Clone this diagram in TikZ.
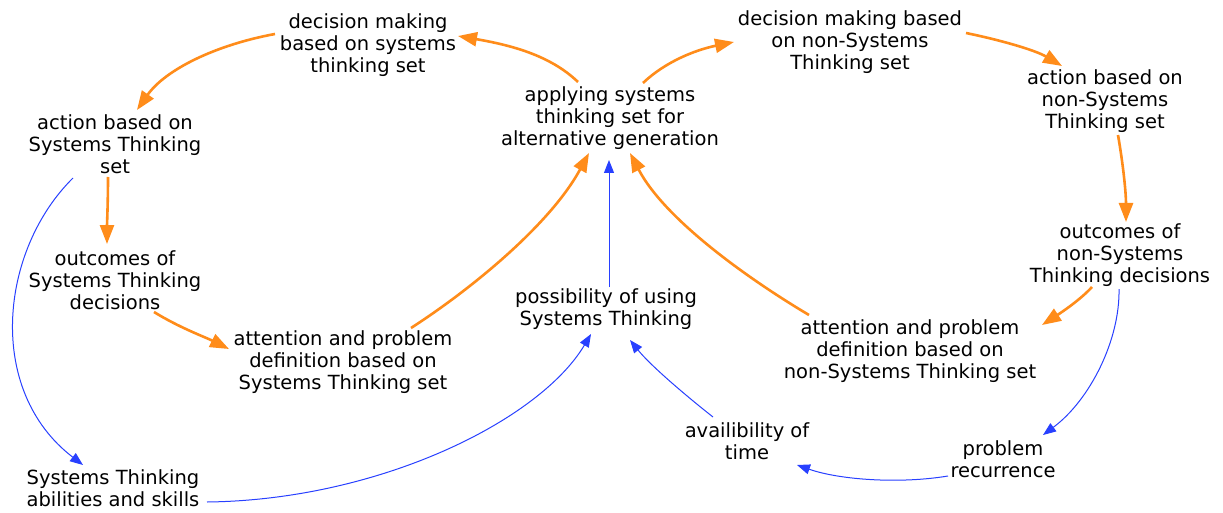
\documentclass[tikz,border=0pt]{standalone}
\usepackage{fontspec}
\setmainfont{DejaVu Sans}
\usetikzlibrary{arrows.meta}
\definecolor{cldorange}{RGB}{255,140,26}
\definecolor{cldblue}{RGB}{40,64,255}
\begin{document}
\begin{tikzpicture}[x=1pt,y=-1pt,
  var/.style={align=center,inner sep=0pt,font=\fontsize{19.5}{22}\selectfont},
  olink/.style={draw=cldorange,line width=2.6pt,-{Triangle[length=19pt,width=14pt]}},
  blink/.style={draw=cldblue,line width=1pt,-{Triangle[length=13pt,width=10pt]}}]
\useasboundingbox[fill=white] (0,0) rectangle (1223,513);
\node[var] (dmST) at (368,45) {decision making\\based on systems\\thinking set};
\node[var] (app) at (610,118) {applying systems\\thinking set for\\alternative generation};
\node[var] (dmN) at (850,42) {decision making based\\on non-Systems\\Thinking set};
\node[var] (actN) at (1105,101) {action based on\\non-Systems\\Thinking set};
\node[var] (actST) at (115,144) {action based on\\Systems Thinking\\set};
\node[var] (outST) at (115,280) {outcomes of\\Systems Thinking\\decisions};
\node[var] (outN) at (1120,255) {outcomes of\\non-Systems\\Thinking decisions};
\node[var] (poss) at (606,309) {possibility of using\\Systems Thinking};
\node[var] (attST) at (343,362) {attention and problem\\definition based on\\Systems Thinking set};
\node[var] (attN) at (910,351) {attention and problem\\definition based on\\non-Systems Thinking set};
\node[var] (avail) at (747,441) {availibility of\\time};
\node[var] (prob) at (1003,459) {problem\\recurrence};
\node[var] (abil) at (113,488) {Systems Thinking\\abilities and skills};
% orange links
\draw[olink] ([shift={(-32,-36)}]app.center) .. controls +(-28,-27) and +(52,9) .. ([shift={(90,-9)}]dmST.center);
\draw[olink] ([shift={(-93,-11)}]dmST.center) .. controls +(-60,11) and +(28,-40) .. ([shift={(22,-34)}]actST.center);
\draw[olink] ([shift={(-7,33)}]actST.center) .. controls +(0,25) and +(0,-20) .. ([shift={(-8,-36)}]outST.center);
\draw[olink] ([shift={(39,32)}]outST.center) .. controls +(26,16) and +(-24,-12) .. ([shift={(-114,-13)}]attST.center);
\draw[olink] ([shift={(68,-34)}]attST.center) .. controls +(59,-38) and +(-39,72) .. ([shift={(-21,35)}]app.center);
\draw[olink] ([shift={(33,-35)}]app.center) .. controls +(22,-21) and +(-39,8) .. ([shift={(-116,0)}]dmN.center);
\draw[olink] ([shift={(116,-9)}]dmN.center) .. controls +(34,7) and +(-27,-16) .. ([shift={(-43,-35)}]actN.center);
\draw[olink] ([shift={(13,34)}]actN.center) .. controls +(6,35) and +(0,-27) .. ([shift={(6,-33)}]outN.center);
\draw[olink] ([shift={(-28,32)}]outN.center) .. controls +(-12,13) and +(20,-13) .. ([shift={(132,-26)}]attN.center);
\draw[olink] ([shift={(-101,-36)}]attN.center) .. controls +(-59,-35) and +(35,67) .. ([shift={(20,35)}]app.center);
% blue links
\draw[blink] ([shift={(3,-22)}]poss.center) -- ([shift={(-1,42)}]app.center);
\draw[blink] ([shift={(-42,34)}]actST.center) .. controls +(-73,72) and +(-98,-75) .. ([shift={(-30,-23)}]abil.center);
\draw[blink] ([shift={(94,14)}]abil.center) .. controls +(173,-2) and +(-51,86) .. ([shift={(-15,25)}]poss.center);
\draw[blink] ([shift={(-34,-24)}]avail.center) .. controls +(-28,-22) and +(20,25) .. ([shift={(24,31)}]poss.center);
\draw[blink] ([shift={(-1,34)}]outN.center) .. controls +(1,51) and +(47,-35) .. ([shift={(40,-24)}]prob.center);
\draw[blink] ([shift={(-55,17)}]prob.center) .. controls +(-48,8) and +(43,15) .. ([shift={(50,24)}]avail.center);
\end{tikzpicture}
\end{document}
